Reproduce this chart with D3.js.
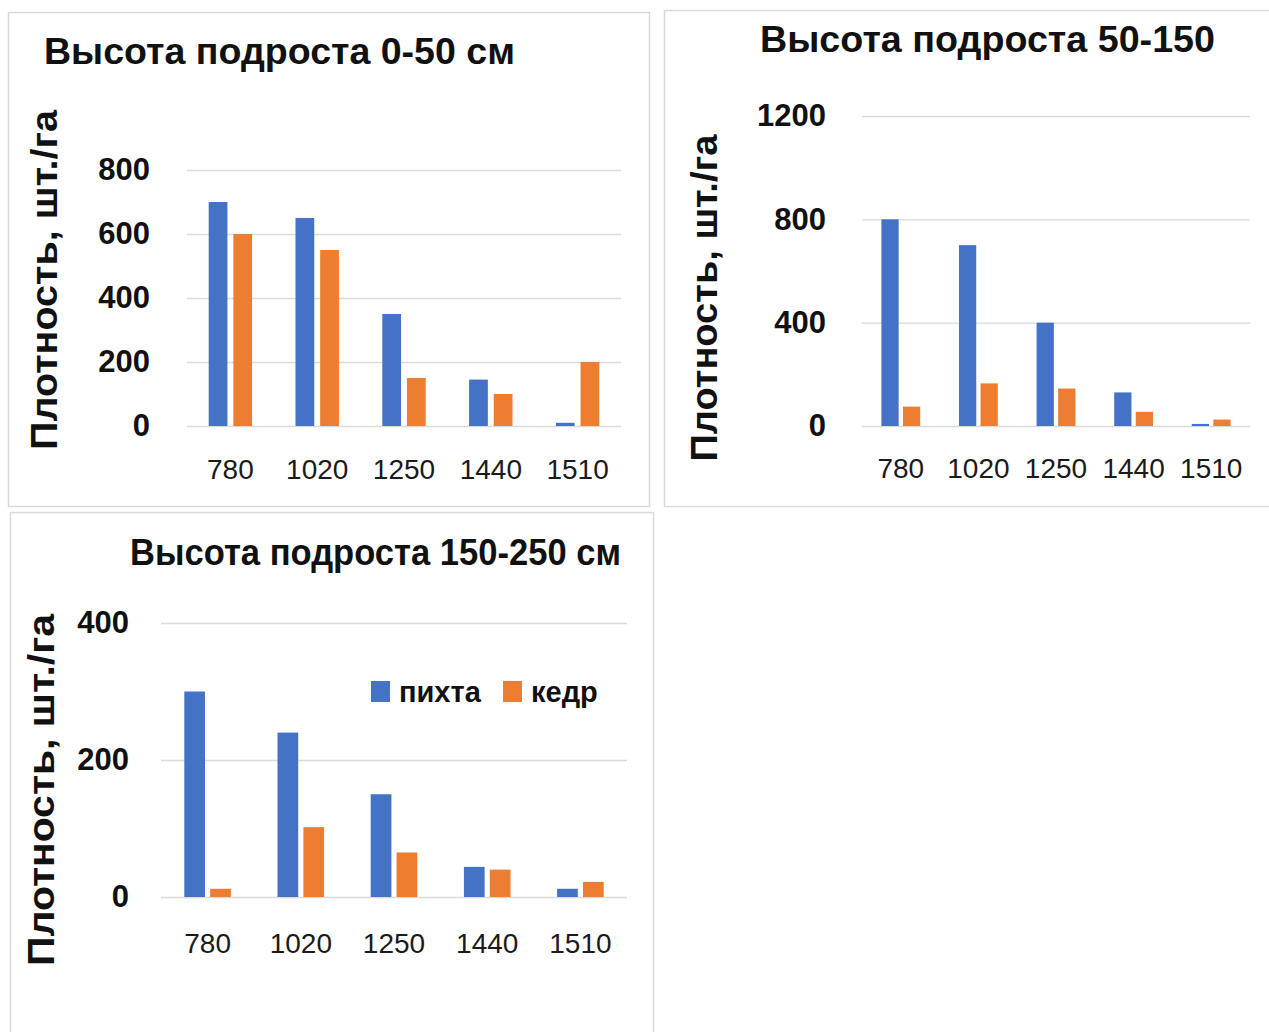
<!DOCTYPE html>
<html>
<head>
  <meta charset="utf-8">
  <title>podrost</title>
  <style>
    body { margin: 0; background: #fff; }
    svg { display: block; }
    .grid line { stroke: #d9d9d9; stroke-width: 1.3; }
    .grid .domain, .xaxis .domain { display: none; }
  </style>
  <script src="https://cdn.jsdelivr.net/npm/d3@7"></script>
</head>
<body>
<script>

  // данные
  var categories = ["780", "1020", "1250", "1440", "1510"];
  var series = ["пихта", "кедр"];
  var colors = ["#4472C4", "#ED7D31"];

  var pikhta_0_50 = [700, 650, 350, 145, 10];
  var kedr_0_50 = [600, 550, 150, 100, 200];
  var pikhta_50_150 = [800, 700, 400, 130, 8];
  var kedr_50_150 = [75, 165, 145, 55, 25];
  var pikhta_150_250 = [300, 240, 150, 44, 12];
  var kedr_150_250 = [12, 102, 65, 40, 22];

  var ticks_0_50 = [0, 200, 400, 600, 800];
  var ticks_50_150 = [0, 400, 800, 1200];
  var ticks_150_250 = [0, 200, 400];

  var titles = ["Высота подроста 0-50 см", "Высота подроста 50-150", "Высота подроста 150-250 см"];
  var yTitle = "Плотность, шт./га";

  var svg = d3.select("body").append("svg")
    .attr("width", 1269)
    .attr("height", 1032);

  // панели: рамка, область графика, подписи
  var panels = [
    {box: [8, 12, 641, 494], left: 187, right: 621, y0: 426, ytop: 170, ymax: 800, ticks: ticks_0_50,
     pikhta: pikhta_0_50, kedr: kedr_0_50, title: titles[0], tx: 44, ty: 64, tlen: 471,
     ax: 57, ay: 280, alen: 340, tickPad: 37, xPad: 33, pad: 0.24},
    {box: [664, 10, 620, 496], left: 862, right: 1250, y0: 426, ytop: 116, ymax: 1200, ticks: ticks_50_150,
     pikhta: pikhta_50_150, kedr: kedr_50_150, title: titles[1], tx: 760, ty: 52, tlen: 455,
     ax: 717, ay: 298, alen: 327, tickPad: 36, xPad: 32, pad: 0.2},
    {box: [10, 512, 643, 530], left: 161, right: 627, y0: 897, ytop: 623, ymax: 400, ticks: ticks_150_250,
     pikhta: pikhta_150_250, kedr: kedr_150_250, title: titles[2], tx: 130, ty: 565, tlen: 491,
     ax: 54, ay: 790, alen: 352, tickPad: 32, xPad: 36, pad: 0.2}
  ];

  panels.forEach(function(p, pi) {
    var g = svg.append("g");

    g.append("rect")
      .attr("x", p.box[0] + 0.5).attr("y", p.box[1] + 0.5)
      .attr("width", p.box[2]).attr("height", p.box[3])
      .attr("fill", "#fff").attr("stroke", "#d9d9d9").attr("stroke-width", 1.5);

    var x = d3.scaleBand().domain(categories).range([p.left, p.right]).padding(0);
    var bw = x.bandwidth();
    var x1 = d3.scaleBand().domain(series).range([bw * 0.25, bw * 0.75]).paddingInner(p.pad);
    var y = d3.scaleLinear().domain([0, p.ymax]).range([p.y0, p.ytop]);

    // сетка и подписи оси Y
    var ya = g.append("g")
      .attr("class", "grid")
      .attr("transform", "translate(" + p.left + ",0)")
      .call(d3.axisLeft(y).tickValues(p.ticks).tickFormat(d3.format("d"))
        .tickSize(-(p.right - p.left)).tickPadding(p.tickPad));
    ya.selectAll("text")
      .attr("font-family", "Liberation Sans, Arial, sans-serif")
      .attr("font-weight", "bold")
      .attr("font-size", 31)
      .attr("fill", "#111");

    // подписи оси X
    var xa = g.append("g")
      .attr("class", "xaxis")
      .attr("transform", "translate(0," + p.y0 + ")")
      .call(d3.axisBottom(x).tickSize(0).tickPadding(p.xPad));
    xa.selectAll("text")
      .attr("font-family", "Liberation Sans, Arial, sans-serif")
      .attr("font-size", 28)
      .attr("fill", "#1a1a1a");

    // столбцы
    var rows = categories.map(function(c, i) {
      return {cat: c, values: [p.pikhta[i], p.kedr[i]]};
    });

    g.selectAll(".grp")
      .data(rows)
      .enter().append("g")
        .attr("transform", function(d) { return "translate(" + x(d.cat) + ",0)"; })
      .selectAll("rect")
      .data(function(d) { return d.values.map(function(v, k) { return {s: series[k], v: v, k: k}; }); })
      .enter().append("rect")
        .attr("x", function(d) { return x1(d.s); })
        .attr("y", function(d) { return y(d.v); })
        .attr("width", x1.bandwidth())
        .attr("height", function(d) { return p.y0 - y(d.v); })
        .attr("fill", function(d) { return colors[d.k]; });

    // заголовок
    g.append("text")
      .attr("x", p.tx).attr("y", p.ty)
      .attr("font-family", "Liberation Sans, Arial, sans-serif")
      .attr("font-weight", "bold")
      .attr("font-size", 37)
      .attr("textLength", p.tlen)
      .attr("lengthAdjust", "spacingAndGlyphs")
      .attr("fill", "#111")
      .text(p.title);

    // подпись оси Y
    g.append("text")
      .attr("transform", "translate(" + p.ax + "," + p.ay + ") rotate(-90)")
      .attr("text-anchor", "middle")
      .attr("font-family", "Liberation Sans, Arial, sans-serif")
      .attr("font-weight", "bold")
      .attr("font-size", 37)
      .attr("textLength", p.alen)
      .attr("lengthAdjust", "spacingAndGlyphs")
      .attr("fill", "#111")
      .text(yTitle);

    // легенда только на третьей панели
    if (pi === 2) {
      var leg = g.append("g").attr("transform", "translate(371,681)");
      var lx = [0, 132];
      series.forEach(function(s, k) {
        leg.append("rect")
          .attr("x", lx[k]).attr("y", 0)
          .attr("width", 19).attr("height", 21)
          .attr("fill", colors[k]);
        leg.append("text")
          .attr("x", lx[k] + 28).attr("y", 21)
          .attr("font-family", "Liberation Sans, Arial, sans-serif")
          .attr("font-weight", "bold")
          .attr("font-size", 29)
          .attr("fill", "#111")
          .text(s);
      });
    }
  });

</script>
</body>
</html>
